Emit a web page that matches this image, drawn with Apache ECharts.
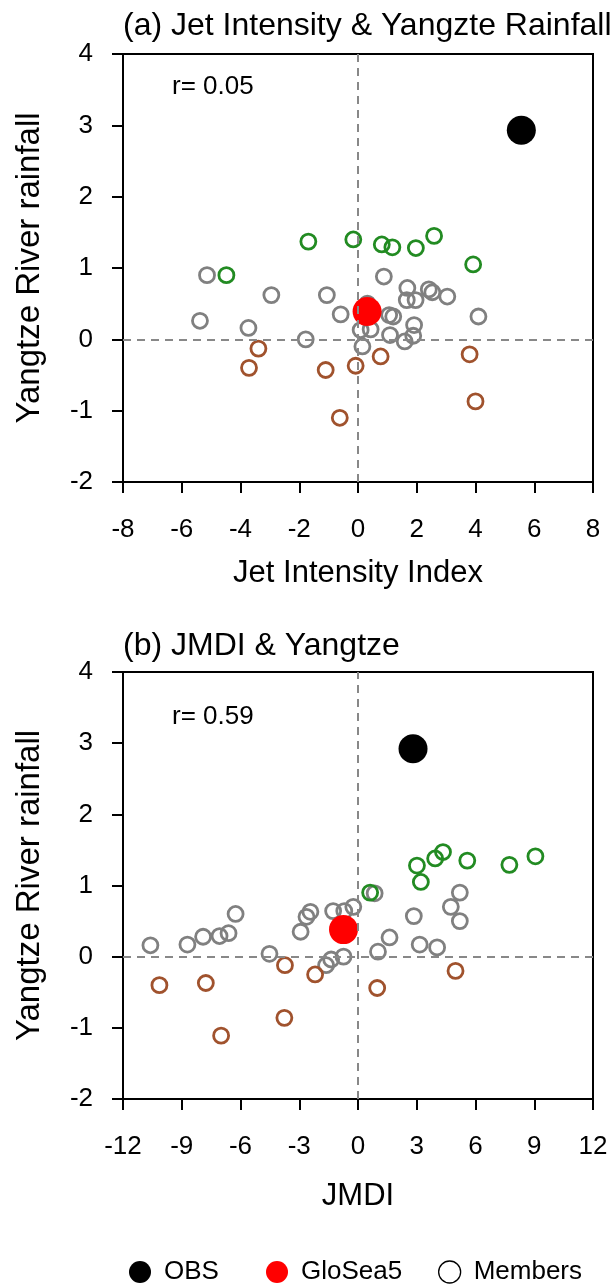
<!DOCTYPE html>
<html>
<head>
<meta charset="utf-8">
<script src="https://cdn.jsdelivr.net/npm/echarts@6/dist/echarts.min.js"></script>
<style>
  html, body { margin: 0; padding: 0; background: #fff; }
  #chart { width: 611px; height: 1284px; }
</style>
</head>
<body>
<div id="chart"></div>
<script>
// panel (a): Jet Intensity Index vs Yangtze rainfall
var jetObs = [[5.56, 2.93]];
var jetGlosea = [[0.31, 0.39]];
var jetGray = [[-5.14, 0.90], [-5.38, 0.26], [-2.95, 0.62], [-3.73, 0.16], [-1.78, 0.00],
  [-1.06, 0.62], [-0.59, 0.35], [0.88, 0.88], [0.32, 0.50], [0.09, 0.13], [0.43, 0.14],
  [0.15, -0.10], [1.06, 0.34], [1.20, 0.32], [1.09, 0.06], [1.68, 0.72], [1.66, 0.55],
  [1.96, 0.55], [1.91, 0.20], [1.88, 0.05], [1.59, -0.03], [2.41, 0.70], [2.53, 0.66],
  [3.04, 0.60], [4.10, 0.32]];
var jetGreen = [[-1.69, 1.37], [-0.16, 1.40], [0.81, 1.33], [1.17, 1.29], [1.97, 1.28],
  [2.59, 1.45], [3.92, 1.05], [-4.48, 0.90]];
var jetBrown = [[-3.39, -0.13], [-3.71, -0.40], [-1.10, -0.43], [-0.08, -0.37],
  [0.77, -0.24], [-0.62, -1.10], [3.80, -0.21], [4.00, -0.87]];

// panel (b): JMDI vs Yangtze rainfall
var jmdiObs = [[2.81, 2.92]];
var jmdiGlosea = [[-0.74, 0.38]];
var jmdiGray = [[-10.60, 0.16], [-8.71, 0.17], [-7.91, 0.28], [-7.07, 0.29], [-6.61, 0.33],
  [-6.25, 0.60], [-4.52, 0.04], [-2.93, 0.35], [-2.63, 0.56], [-2.43, 0.63], [-1.27, 0.64],
  [-0.70, 0.64], [-0.24, 0.70], [-1.63, -0.12], [-1.37, -0.04], [-0.74, 0.00], [1.02, 0.07],
  [1.61, 0.27], [2.85, 0.57], [3.15, 0.17], [4.04, 0.13], [4.74, 0.70], [5.20, 0.90],
  [5.20, 0.50], [0.85, 0.89]];
var jmdiGreen = [[0.62, 0.90], [3.01, 1.28], [3.21, 1.05], [3.94, 1.38], [4.34, 1.47],
  [5.58, 1.35], [7.73, 1.29], [9.06, 1.41]];
var jmdiBrown = [[-10.14, -0.40], [-7.77, -0.37], [-6.99, -1.11], [-3.73, -0.12],
  [-3.76, -0.86], [-2.19, -0.25], [0.98, -0.44], [4.98, -0.20]];

var titles = ['(a) Jet Intensity & Yangzte Rainfall', '(b) JMDI & Yangtze'];
var xNames = ['Jet Intensity Index', 'JMDI'];
var yName = 'Yangtze River rainfall';
var corrText = ['r= 0.05', 'r= 0.59'];

var FONT = '"Liberation Sans", Arial, Helvetica, sans-serif';
var GRAY = '#808080', GREEN = '#228B22', BROWN = '#A0522D';

function xAxisCfg(idx, min, max, step, gap) {
  return {
    type: 'value', gridIndex: idx, min: min, max: max, interval: step,
    name: xNames[idx], nameLocation: 'middle', nameGap: gap,
    nameTextStyle: { fontFamily: FONT, fontSize: 31, color: '#000' },
    axisLine: { onZero: false, lineStyle: { color: '#000', width: 2 } },
    axisTick: { inside: false, length: 11, lineStyle: { color: '#000', width: 2 } },
    axisLabel: { margin: 35, fontFamily: FONT, fontSize: 26, color: '#000' },
    splitLine: { show: false }
  };
}

function yAxisCfg(idx) {
  return {
    type: 'value', gridIndex: idx, min: -2, max: 4, interval: 1,
    name: yName, nameLocation: 'middle', nameGap: 77,
    nameTextStyle: { fontFamily: FONT, fontSize: 33, color: '#000' },
    axisLine: { onZero: false, lineStyle: { color: '#000', width: 2 } },
    axisTick: { inside: false, length: 11, lineStyle: { color: '#000', width: 2 } },
    axisLabel: { margin: 30, fontFamily: FONT, fontSize: 26, color: '#000' },
    splitLine: { show: false }
  };
}

function memberSeries(idx, data, color, withLines) {
  var s = {
    name: 'Members', type: 'scatter', xAxisIndex: idx, yAxisIndex: idx,
    data: data, symbol: 'circle', symbolSize: 15, z: 3,
    itemStyle: { color: 'rgba(0,0,0,0)', borderColor: color, borderWidth: 2.8, opacity: 1 }
  };
  if (withLines) {
    s.markLine = {
      silent: true, symbol: 'none', animation: false,
      label: { show: false },
      lineStyle: { color: '#888', width: 2, type: [8, 6] },
      data: [{ xAxis: 0 }, { yAxis: 0 }]
    };
  }
  return s;
}

function dotSeries(idx, name, data, color) {
  return {
    name: name, type: 'scatter', xAxisIndex: idx, yAxisIndex: idx,
    data: data, symbol: 'circle', symbolSize: 29, z: 4,
    itemStyle: { color: color, opacity: 1 }
  };
}

function legendCfg(left, name, item) {
  return {
    left: left, top: 1254, selectedMode: false, icon: 'circle',
    itemWidth: 22, itemHeight: 22,
    textStyle: { fontFamily: FONT, fontSize: 26, color: '#000', padding: [0, 0, 0, 8] },
    data: [Object.assign({ name: name }, item)]
  };
}

var chart = echarts.init(document.getElementById('chart'), null, { renderer: 'canvas' });

var option = {
  backgroundColor: '#fff',
  animation: false,
  title: [
    { text: titles[0], left: 118, top: 5, textStyle: { fontFamily: FONT, fontSize: 32, fontWeight: 'normal', color: '#000' } },
    { text: titles[1], left: 118, top: 625, textStyle: { fontFamily: FONT, fontSize: 32, fontWeight: 'normal', color: '#000' } }
  ],
  grid: [
    { left: 123, width: 470, top: 54, height: 428, show: true, borderColor: '#000', borderWidth: 2, backgroundColor: 'transparent' },
    { left: 123, width: 470, top: 672, height: 427, show: true, borderColor: '#000', borderWidth: 2, backgroundColor: 'transparent' }
  ],
  xAxis: [xAxisCfg(0, -8, 8, 2, 76), xAxisCfg(1, -12, 12, 3, 82)],
  yAxis: [yAxisCfg(0), yAxisCfg(1)],
  legend: [
    legendCfg(124, 'OBS', { itemStyle: { color: '#000' } }),
    legendCfg(261, 'GloSea5', { itemStyle: { color: '#ff0000' } }),
    legendCfg(433, 'Members', { itemStyle: { color: '#fff', borderColor: '#000', borderWidth: 1.3 } })
  ],
  graphic: [
    { type: 'text', left: 172, top: 74, style: { text: corrText[0], font: '26px ' + FONT, fill: '#000' } },
    { type: 'text', left: 172, top: 704, style: { text: corrText[1], font: '26px ' + FONT, fill: '#000' } }
  ],
  series: [
    memberSeries(0, jetGray, GRAY, true),
    memberSeries(0, jetGreen, GREEN, false),
    memberSeries(0, jetBrown, BROWN, false),
    dotSeries(0, 'GloSea5', jetGlosea, '#ff0000'),
    dotSeries(0, 'OBS', jetObs, '#000'),
    memberSeries(1, jmdiGray, GRAY, true),
    memberSeries(1, jmdiGreen, GREEN, false),
    memberSeries(1, jmdiBrown, BROWN, false),
    dotSeries(1, 'GloSea5', jmdiGlosea, '#ff0000'),
    dotSeries(1, 'OBS', jmdiObs, '#000')
  ]
};

chart.setOption(option);

window.addEventListener('resize', function () {
  chart.resize();
});
</script>
</body>
</html>
